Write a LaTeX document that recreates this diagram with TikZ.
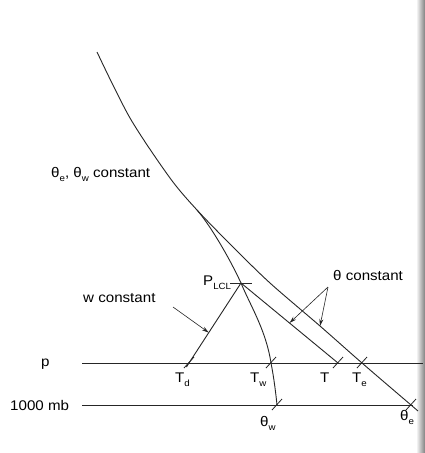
\documentclass[tikz,border=0pt]{standalone}
\usepackage{fontspec}
\setmainfont[FakeStretch=1.08]{Liberation Sans}
\usetikzlibrary{arrows.meta,calc}
\newcommand\sbs[1]{\raisebox{-0.55ex}{\fontsize{9}{9}\selectfont #1}}
\begin{document}
\begin{tikzpicture}[x=1pt,y=-1pt,
  ln/.style={line width=0.9pt, draw=black!85},
  lbl/.style={font=\fontsize{14}{16}\selectfont, text=black, inner sep=0pt},
  tk/.style={line width=0.8pt, draw=black!85},
  arr/.style={line width=0.6pt, draw=black!85, -{Stealth[length=7pt,width=4pt]}}]
\useasboundingbox (0,0) rectangle (425,453);
\fill[white] (0,0) rectangle (425,453);
\shade[left color=white, right color=black!50] (416,0) rectangle (425,453);
% key points
\coordinate (top) at (97,52);
\coordinate (u1) at (130,118);
\coordinate (u2) at (170,178);
\coordinate (split) at (197,210);
\coordinate (lcl) at (241,283);
\coordinate (Td) at (189,363);
\coordinate (Tw) at (271,363);
\coordinate (thw) at (277,405);
\coordinate (T) at (338,363);
\coordinate (Te) at (362,363);
\coordinate (the) at (411,405);
\coordinate (pL) at (82,363);
\coordinate (pR) at (423,363);
\coordinate (mL) at (82,405);
\coordinate (mR) at (413,405);
\coordinate (r1) at (232,246);
\coordinate (r2) at (270,283);
\coordinate (r4) at (320,326);
\coordinate (rend) at (418,411);
% horizontal lines
\draw[ln] (pL) -- (pR);
\draw[ln] (mL) -- (mR);
% theta_e curve (upper shared part)
\draw[ln] plot[smooth] coordinates {(top) (u1) (u2) (split) (r1) (r2) (r4) (Te) (the) (rend)};
% moist adiabat through LCL
\draw[ln] (split) .. controls (210,225) and (229,257) .. (lcl)
  .. controls (250,305) and (266,330) .. (Tw)
  .. controls (274,378) and (276,395) .. (thw);
% dry adiabat to T
\draw[ln] (lcl) -- (T);
% w constant to Td
\draw[ln] (lcl) -- ($(lcl)!1.05!(Td)$);
% ticks
\draw[tk] (230,283) -- (252,283);
\foreach \p in {Td,Tw,thw,T,Te,the}
  \draw[tk] ($(\p)+(-5,5)$) -- ($(\p)+(5,-6)$);
% labels
\node[lbl,anchor=base west] (lthe) at (51,177) {θ\sbs{e}, θ\sbs{w} constant};
\node[lbl,anchor=base west] (lw) at (83,302) {w constant};
\node[lbl,anchor=base west] (lth) at (333,280) {θ constant};
\node[lbl,anchor=base west] (lp) at (41,366) {p};
\node[lbl,anchor=base west] (l1000) at (10,410) {1000 mb};
\node[lbl,anchor=base west] (lTd) at (175,382) {T\sbs{d}};
\node[lbl,anchor=base west] (lTw) at (250,382) {T\sbs{w}};
\node[lbl,anchor=base west] (lT) at (320,382) {T};
\node[lbl,anchor=base west] (lTe) at (352,382) {T\sbs{e}};
\node[lbl,anchor=base west] (lthw) at (260,426) {θ\sbs{w}};
\node[lbl,anchor=base west] (lthe2) at (400,420) {θ\sbs{e}};
\node[lbl,anchor=base west] (llcl) at (203,285) {P\sbs{LCL}};
% arrows
\coordinate (wa) at (173,307);
\draw[arr] (wa) -- ($(lcl)!0.62!(Td)$);
\coordinate (ta) at (328,287);
\draw[arr] (ta) -- ($(lcl)!0.5!(T)$);
\draw[arr] (ta) -- (r4);
\end{tikzpicture}
\end{document}
